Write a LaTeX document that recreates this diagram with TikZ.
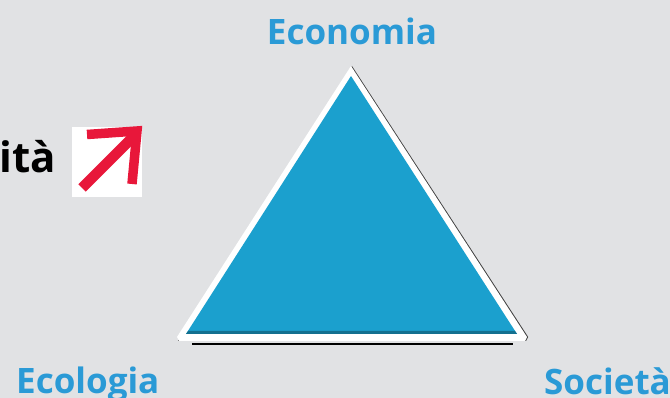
\documentclass[tikz,border=0pt]{standalone}
\usepackage{fontspec}
\setmainfont{Open Sans}
\usepackage{xcolor}
\definecolor{bgGrey}{HTML}{E1E2E4}
\definecolor{triBlue}{HTML}{1BA0CE}
\definecolor{triDark}{HTML}{13708F}
\definecolor{labelBlue}{HTML}{2A9AD6}
\definecolor{arrowRed}{HTML}{E8173A}

\tikzset{
  pillar/.style={text=labelBlue, font=\bfseries\fontsize{35}{40}\selectfont, inner sep=0pt},
}

\begin{document}
\begin{tikzpicture}[x=1pt,y=-1pt]
% Background
\fill[bgGrey] (0,0) rectangle (670,398);
\useasboundingbox (0,0) rectangle (670,398);
\clip (0,0) rectangle (670,398);

% Triangle
\fill[black!75] (352,66) -- (528.2,337) -- (526,341) -- (178,341) -- cycle;
\fill[white] (351,66) -- (527,337) -- (525,341) -- (179,341) -- (177,337) -- cycle;
\fill[triBlue] (351,76) -- (517,334) -- (186,334) -- cycle;
\fill[triDark] (188,331) -- (515,331) -- (517,334) -- (186,334) -- cycle;
\draw[black, line width=2pt] (192,344) -- (513,344);

% Labels
\node[pillar, anchor=base] (econ) at (352,45) {Economia};
\node[pillar, anchor=base west] (ecol) at (16,393) {Ecologia};
\node[pillar, anchor=base west] (soc) at (544,394) {Società};

% Partial word with icon
\node[font=\bfseries\fontsize{42}{48}\selectfont, inner sep=0pt, anchor=base east] (word) at (56,173) {ità};
\node[fill=white, minimum size=70pt, inner sep=0pt, anchor=north west] (icon) at (72,127) {};
\draw[arrowRed, line width=10.5pt] (82,188) -- (134,136);
\draw[arrowRed, line width=9.5pt, line join=miter] (87,134.5) -- (137,131) -- (132,184);

\end{tikzpicture}
\end{document}
